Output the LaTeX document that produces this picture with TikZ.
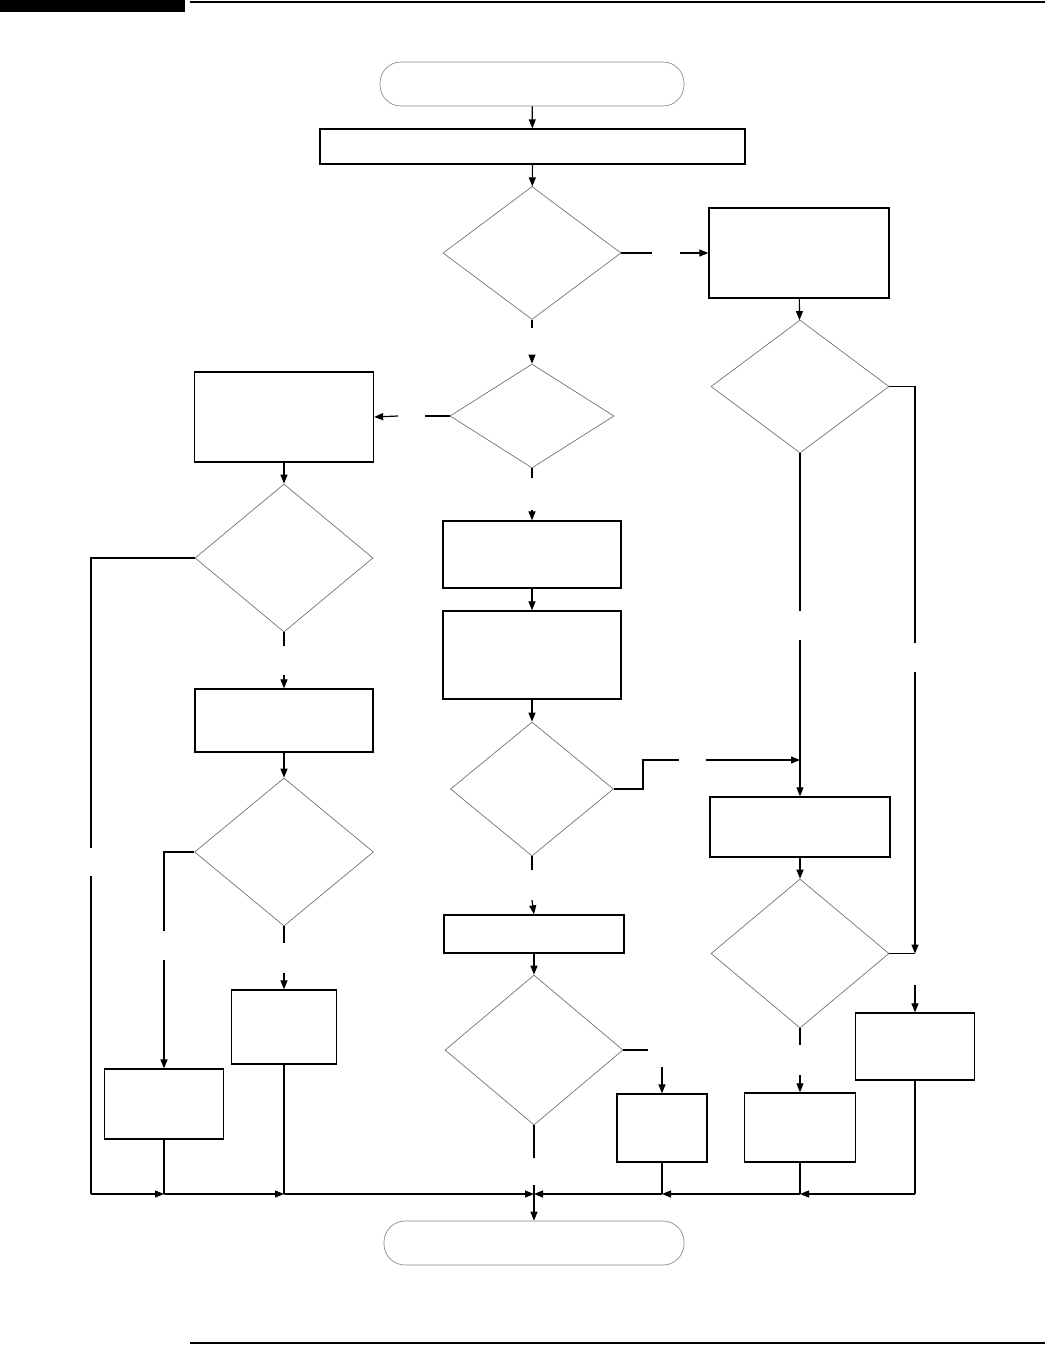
\documentclass[tikz,border=0pt]{standalone}
\usetikzlibrary{shapes.geometric,arrows.meta}
\begin{document}
\begin{tikzpicture}[x=1pt,y=-1pt,
  box/.style={draw=black,line width=1.3pt,rectangle,inner sep=0pt,minimum width=#1},
  dia/.style={draw=black!55,line width=0.7pt,diamond,inner sep=0pt},
  term/.style={draw=black!45,line width=0.7pt,rectangle,rounded corners=21pt,inner sep=0pt},
  con/.style={line width=1.2pt,black},
  arr/.style={con,-{Triangle[length=9pt,width=7pt]}}
]
\useasboundingbox (0,0) rectangle (1045,1345);
% page header / footer rules
\fill[black] (0,0) rectangle (185,12);
\draw[line width=2pt] (190,2) -- (1045,2);
\draw[line width=1.6pt] (190,1343) -- (1045,1343);

% nodes
\node[term,minimum width=304pt,minimum height=44pt] (start) at (532,84) {};
\node[box=425pt,minimum height=35pt] (b1) at (532.5,146.5) {};
\node[dia,minimum width=178pt,minimum height=133pt] (d1) at (532,253) {};
\node[box=180pt,minimum height=90pt] (r1) at (799,253) {};
\node[dia,minimum width=164pt,minimum height=104pt] (d2) at (532,416) {};
\node[box=179pt,minimum height=90pt] (l1) at (284,417) {};
\node[box=178pt,minimum height=67pt] (m1) at (532,554.5) {};
\node[box=178pt,minimum height=88pt] (m2) at (532,655) {};
\node[dia,minimum width=163pt,minimum height=134pt] (dm4) at (532,789) {};
\node[box=180pt,minimum height=38pt] (m3) at (534,934) {};
\node[dia,minimum width=178pt,minimum height=150pt] (dm5) at (534,1050) {};
\node[box=90pt,minimum height=68pt] (m6) at (662,1128) {};
\node[dia,minimum width=178pt,minimum height=133pt] (dr2) at (800,386.5) {};
\node[box=180pt,minimum height=60pt] (r3) at (800,827) {};
\node[dia,minimum width=178pt,minimum height=149pt] (dr3) at (800,953.5) {};
\node[box=111pt,minimum height=69pt] (r5) at (800,1127.5) {};
\node[box=119pt,minimum height=67pt] (r4) at (915,1046.5) {};
\node[dia,minimum width=178pt,minimum height=148pt] (dl1) at (284,558) {};
\node[box=178pt,minimum height=63pt] (l2) at (284,720.5) {};
\node[dia,minimum width=179pt,minimum height=148pt] (dl2) at (284,852) {};
\node[box=105pt,minimum height=74pt] (l4) at (284,1027) {};
\node[box=119pt,minimum height=70pt] (l5) at (164,1104) {};
\node[term,minimum width=300pt,minimum height=44pt] (endn) at (534,1243) {};

% free ends of broken connectors
\coordinate (d1e1) at (652,253);   \coordinate (d1e2) at (680,253);
\coordinate (d1s1) at (532,328);   \coordinate (d1s2) at (532,355);
\coordinate (d2w1) at (425,416);   \coordinate (d2w2) at (398,416);
\coordinate (d2s1) at (532,478);   \coordinate (d2s2) at (532,510);
\coordinate (dm4a) at (643,789);   \coordinate (dm4b) at (643,760);
\coordinate (dm4c) at (679,760);   \coordinate (dm4d) at (706,760);
\coordinate (j760) at (800,760);
\coordinate (dr2s1) at (800,611);  \coordinate (dr2s2) at (800,640);
\coordinate (dr2a) at (915,386.5); \coordinate (dr2b) at (915,643);
\coordinate (dr2c) at (915,672);   \coordinate (dr3j) at (915,953.5);
\coordinate (r4in) at (915,985);
\coordinate (dr3s1) at (800,1045); \coordinate (dr3s2) at (800,1075);
\coordinate (dm4s1) at (532,870);  \coordinate (dm4s2) at (532,900);
\coordinate (dm5e1) at (648,1050); \coordinate (dm5e2) at (662,1067);
\coordinate (dm5s1) at (534,1158); \coordinate (dm5s2) at (534,1185);
\coordinate (dl1a) at (91,558);    \coordinate (dl1b) at (91,848);
\coordinate (dl1c) at (91,876);    \coordinate (bl0) at (91,1194);
\coordinate (dl1s1) at (284,646);  \coordinate (dl1s2) at (284,675);
\coordinate (dl2a) at (164,852);   \coordinate (dl2b) at (164,931);
\coordinate (dl2c) at (164,960);
\coordinate (dl2s1) at (284,943);  \coordinate (dl2s2) at (284,973);
\coordinate (bl1) at (164,1194);   \coordinate (bl2) at (284,1194);
\coordinate (bc) at (534,1194);
\coordinate (br1) at (662,1194);   \coordinate (br2) at (800,1194);
\coordinate (br3) at (915,1194);

% connectors
\draw[arr] (start) -- (b1);
\draw[arr] (b1) -- (d1);
\draw[con] (d1.east) -- (d1e1);
\draw[arr] (d1e2) -- (r1.west);
\draw[arr] (r1) -- (dr2);
\draw[con] (d1.south) -- (d1s1);
\draw[arr] (d1s2) -- (d2.north);
\draw[con] (d2.west) -- (d2w1);
\draw[arr] (d2w2) -- (l1.east);
\draw[con] (d2.south) -- (d2s1);
\draw[arr] (d2s2) -- (m1.north);
\draw[arr] (m1) -- (m2);
\draw[arr] (m2) -- (dm4);
\draw[con] (dm4.east) -- (dm4a) -- (dm4b) -- (dm4c);
\draw[arr] (dm4d) -- (j760);
\draw[con] (dr2.south) -- (dr2s1);
\draw[arr] (dr2s2) -- (r3.north);
\draw[con] (dr2.east) -- (dr2a) -- (dr2b);
\draw[arr] (dr2c) -- (dr3j);
\draw[con] (dr3.east) -- (dr3j);
\draw[arr] (r4in) -- (r4.north);
\draw[arr] (r3) -- (dr3);
\draw[con] (dr3.south) -- (dr3s1);
\draw[arr] (dr3s2) -- (r5.north);
\draw[con] (dm4.south) -- (dm4s1);
\draw[arr] (dm4s2) -- (m3.north);
\draw[arr] (m3) -- (dm5);
\draw[con] (dm5.east) -- (dm5e1);
\draw[arr] (dm5e2) -- (m6.north);
\draw[con] (dm5.south) -- (dm5s1);
\draw[arr] (dm5s2) -- (endn.north);
\draw[arr] (l1) -- (dl1);
\draw[con] (dl1.west) -- (dl1a) -- (dl1b);
\draw[con] (dl1c) -- (bl0);
\draw[con] (dl1.south) -- (dl1s1);
\draw[arr] (dl1s2) -- (l2.north);
\draw[arr] (l2) -- (dl2);
\draw[con] (dl2.west) -- (dl2a) -- (dl2b);
\draw[arr] (dl2c) -- (l5.north);
\draw[con] (dl2.south) -- (dl2s1);
\draw[arr] (dl2s2) -- (l4.north);
% bottom collector
\draw[con] (l5.south) -- (bl1);
\draw[con] (l4.south) -- (bl2);
\draw[con] (r5.south) -- (br2);
\draw[con] (m6.south) -- (br1);
\draw[con] (r4.south) -- (br3);
\draw[arr] (bl0) -- (bl1);
\draw[arr] (bl1) -- (bl2);
\draw[arr] (bl2) -- (bc);
\draw[arr] (br3) -- (br2);
\draw[arr] (br2) -- (br1);
\draw[arr] (br1) -- (bc);
\end{tikzpicture}
\end{document}
